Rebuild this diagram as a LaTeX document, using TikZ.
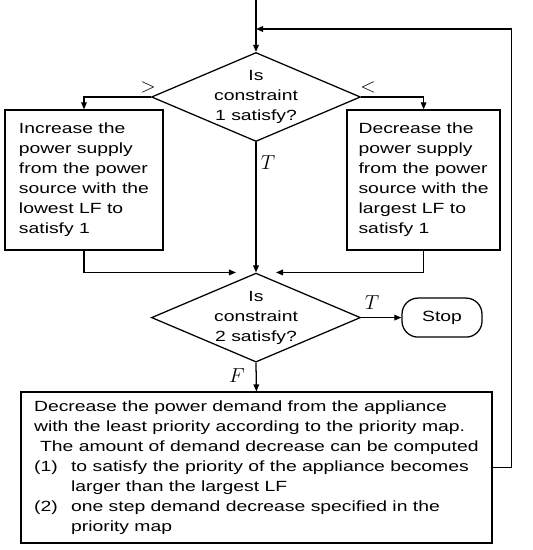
\documentclass[tikz,border=0pt]{standalone}
\usepackage{fontspec}
\setmainfont{Liberation Sans}[FakeStretch=1.31]
\usetikzlibrary{positioning,arrows.meta,shapes.geometric}

\begin{document}
\begin{tikzpicture}[
  % Node Styles
  procbox/.style={rectangle, draw, line width=0.9pt, minimum height=3.5cm, align=left, inner sep=0pt},
  decnode/.style={diamond, draw, line width=0.9pt, minimum width=5.225cm, minimum height=2.225cm, inner sep=0pt},
  dectext/.style={align=center, inner sep=0pt},
  stopnode/.style={rectangle, rounded corners=0.4cm, draw, line width=0.9pt, minimum width=2.0cm, minimum height=0.975cm},
  lbl/.style={inner sep=0pt, font=\Large},
  % Arrow Styles
  flowarrow/.style={-{Triangle[length=5pt,width=4pt]}, line width=0.9pt},
]
\tikzset{font=\fontsize{10.5}{14.2}\selectfont}
\useasboundingbox (0,0) rectangle (13.3,-13.75);

% Flowchart: constraint checks

\coordinate (start) at (6.40,0.00);
\coordinate (loopin) at (6.40,-0.725);

\node[decnode] (dec1) at (6.40,-2.425) {};
\node[dectext] (dec1txt) at (dec1) {Is\\constraint\\1 satisfy?};
\node[procbox, minimum width=3.95cm] (inc) at (2.10,-4.50) {Increase the\\power supply\\from the power\\source with the\\lowest LF to\\satisfy 1};
\node[procbox, minimum width=3.825cm] (dcr) at (10.59,-4.50) {Decrease the\\power supply\\from the power\\source with the\\largest LF to\\satisfy 1};
\node[decnode] (dec2) at (6.40,-7.94) {};
\node[dectext] (dec2txt) at (dec2) {Is\\constraint\\2 satisfy?};
\node[stopnode] (stop) at (11.05,-7.94) {Stop};
\node[procbox, minimum width=11.775cm, minimum height=3.775cm] (act) at (6.41,-11.69) {Decrease the power demand from the appliance\\with the least priority according to the priority map.\\\hspace*{0.15cm}The amount of demand decrease can be computed\\\makebox[0.925cm][l]{(1)}to satisfy the priority of the appliance becomes\\\hspace*{0.925cm}larger than the largest LF\\\makebox[0.925cm][l]{(2)}one step demand decrease specified in the\\\hspace*{0.925cm}priority map};

\node[lbl] (gt) at (3.70,-2.175) {$>$};
\node[lbl] (lt) at (9.20,-2.175) {$<$};
\node[lbl] (t1) at (6.70,-4.075) {$T$};
\node[lbl] (t2) at (9.30,-7.575) {$T$};
\node[lbl] (f1) at (5.925,-9.40) {$F$};

\draw[flowarrow] (start) -- (dec1.north);
\draw[flowarrow] (dec1.west) -| (inc.north);
\draw[flowarrow] (dec1.east) -| (dcr.north);
\draw[flowarrow] (dec1.south) -- (dec2.north);
\draw[flowarrow] (inc.south) |- ([xshift=-0.5cm]dec2.north);
\draw[flowarrow] (dcr.south) |- ([xshift=0.5cm]dec2.north);
\draw[flowarrow] (dec2.east) -- (stop.west);
\draw[flowarrow] (dec2.south) -- (act.north);
\draw[flowarrow] (act.east) -- ++(0.475,0) |- (loopin);

\end{tikzpicture}
\end{document}
